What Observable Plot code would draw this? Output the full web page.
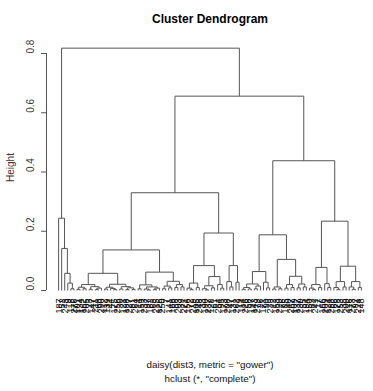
<!DOCTYPE html>
<html>
<head>
<meta charset="utf-8">
<script src="https://cdn.jsdelivr.net/npm/d3@7"></script>
<script src="https://cdn.jsdelivr.net/npm/@observablehq/plot@0.6"></script>
<style>
  html, body { margin: 0; padding: 0; background: #fff; }
</style>
</head>
<body>
<div id="chart"></div>
<script>
// ---- Data: merge trees as [height, left, right]; leaves are labels ----
const chainTree = [0.244, 187, [0.142, 52, [0.058, 243, [0.025, 9, [0.006, 118, 276]]]]];

const a1Tree = [0.058,
  [0.02, [0.011, [0.004, 101, 134], [0.006, 162, 205]],
         [0.013, [0.004, 23, 147], [0.008, [0.003, 211, 68], 290]]],
  [0.021, [0.011, [0.005, 112, 139], [0.007, 44, [0.003, 175, 256]]],
          [0.013, [0.005, 30, 121], [0.009, [0.003, 198, 227], [0.004, 81, 264]]]]
];

const a2Tree = [0.062,
  [0.019, [0.006, 14, 159],
          [0.012, [0.005, 233, [0.002, 97, 182]], [0.008, [0.003, 63, 215], 126]]],
  [0.031, [0.015, [0.006, 250, 7], [0.009, 141, 168]],
          [0.02, [0.01, 88, 203], [0.012, 39, 271]]]
];

const bTree = [0.194,
  [0.084,
    [0.025, [0.008, 156, [0.003, 72, 219]], [0.01, 105, 248]],
    [0.047, [0.016, [0.006, 33, [0.002, 190, 237]], [0.009, 128, 61]],
            [0.02, 284, [0.008, 95, 173]]]],
  [0.084,
    [0.03, 208, [0.012, 47, 131]],
    [0.028, 262, 19]]
];

const dTree = [0.188,
  [0.064,
    [0.022, [0.01, [0.004, 114, 226], [0.005, 58, 197]], [0.015, [0.006, 143, 279], 26]],
    [0.028, 171, [0.009, 90, 239]]],
  [0.105,
    [0.012, [0.005, 12, 153], [0.006, 220, 76]],
    [0.048, [0.02, [0.008, 185, 40], [0.01, 267, 109]],
            [0.022, [0.009, 137, 230], [0.012, 55, 194]]]]
];

const eTree = [0.234,
  [0.078,
    [0.02, [0.008, 150, [0.003, 83, 241]], [0.01, 17, 166]],
    [0.023, 209, [0.01, 124, 288]]],
  [0.082,
    [0.03, [0.01, 66, [0.004, 178, 253]], [0.012, 35, 200]],
    [0.03, [0.012, 116, [0.004, 273, 92]], [0.01, 224, 148]]]
];

// upper merge heights: root, right branch, A+B, A1+A2, D+E
const topHeights = [0.818, 0.656, 0.33, 0.137, 0.438];
const yTicks = [0, 0.2, 0.4, 0.6, 0.8];
const titleText = "Cluster Dendrogram";
const subLines = ['daisy(dist3, metric = "gower")', 'hclust (*, "complete")'];
const yLabel = "Height";

// ---- Build the full tree ----
const [hRoot, hRight, hAB, hA, hDE] = topHeights;
const tree = [hRoot, chainTree,
  [hRight, [hAB, [hA, a1Tree, a2Tree], bTree], [hDE, dTree, eTree]]];

const leaves = [];
const segs = [];
let counter = 0;
function layout(node) {
  if (!Array.isArray(node)) {
    counter++;
    leaves.push({i: counter, label: String(node)});
    return {x: counter, h: 0};
  }
  const [h, l, r] = node;
  const a = layout(l), b = layout(r);
  segs.push({x1: a.x, y1: a.h, x2: a.x, y2: h});
  segs.push({x1: b.x, y1: b.h, x2: b.x, y2: h});
  segs.push({x1: a.x, y1: h, x2: b.x, y2: h});
  return {x: (a.x + b.x) / 2, h};
}
layout(tree);
const n = leaves.length;
const pad = 0.04 * (n - 1);
const xMin = 1 - pad, xMax = n + pad;

const lineColor = "#555";

const chart = Plot.plot({
  width: 373,
  height: 391,
  marginLeft: 46,
  marginRight: 0,
  marginTop: 53,
  marginBottom: 101,
  style: {fontFamily: "'Liberation Sans', Arial, sans-serif", background: "#fff", color: "#111"},
  x: {domain: [xMin, xMax], range: [46, 373], axis: null},
  y: {domain: [0, 0.8], range: [290, 53], axis: null},
  marks: [
    // dendrogram
    Plot.link(segs, {x1: "x1", y1: "y1", x2: "x2", y2: "y2", stroke: lineColor, strokeWidth: 1}),
    // leaf labels
    Plot.text(leaves, {x: "i", y: () => 0, text: "label", rotate: -90, textAnchor: "end",
      dy: 8, fontSize: 9, fill: "#000"}),
    // y axis line
    Plot.ruleX([xMin], {y1: yTicks[0], y2: yTicks[yTicks.length - 1], stroke: lineColor}),
    Plot.axisY({ticks: yTicks, tickSize: 5, tickFormat: () => "", label: null, stroke: lineColor}),
    Plot.text(yTicks, {y: d => d, text: d => d.toFixed(1), frameAnchor: "left", dx: -16,
      rotate: -90, fontSize: 10, fill: "#333"}),
    // axis title
    Plot.text([yLabel], {frameAnchor: "left", dx: -36, dy: 10, rotate: -90, fontSize: 10, fill: "#4a2e2e"}),
    // main title
    Plot.text([titleText], {frameAnchor: "top", dy: -39, fontSize: 12, fontWeight: "bold", fill: "#000"}),
    // sub lines
    Plot.text([subLines[0]], {frameAnchor: "bottom", dy: 77, fontSize: 9.8, fill: "#111"}),
    Plot.text([subLines[1]], {frameAnchor: "bottom", dy: 91, fontSize: 9.8, fill: "#111"})
  ]
});
document.getElementById("chart").appendChild(chart);
</script>
</body>
</html>
